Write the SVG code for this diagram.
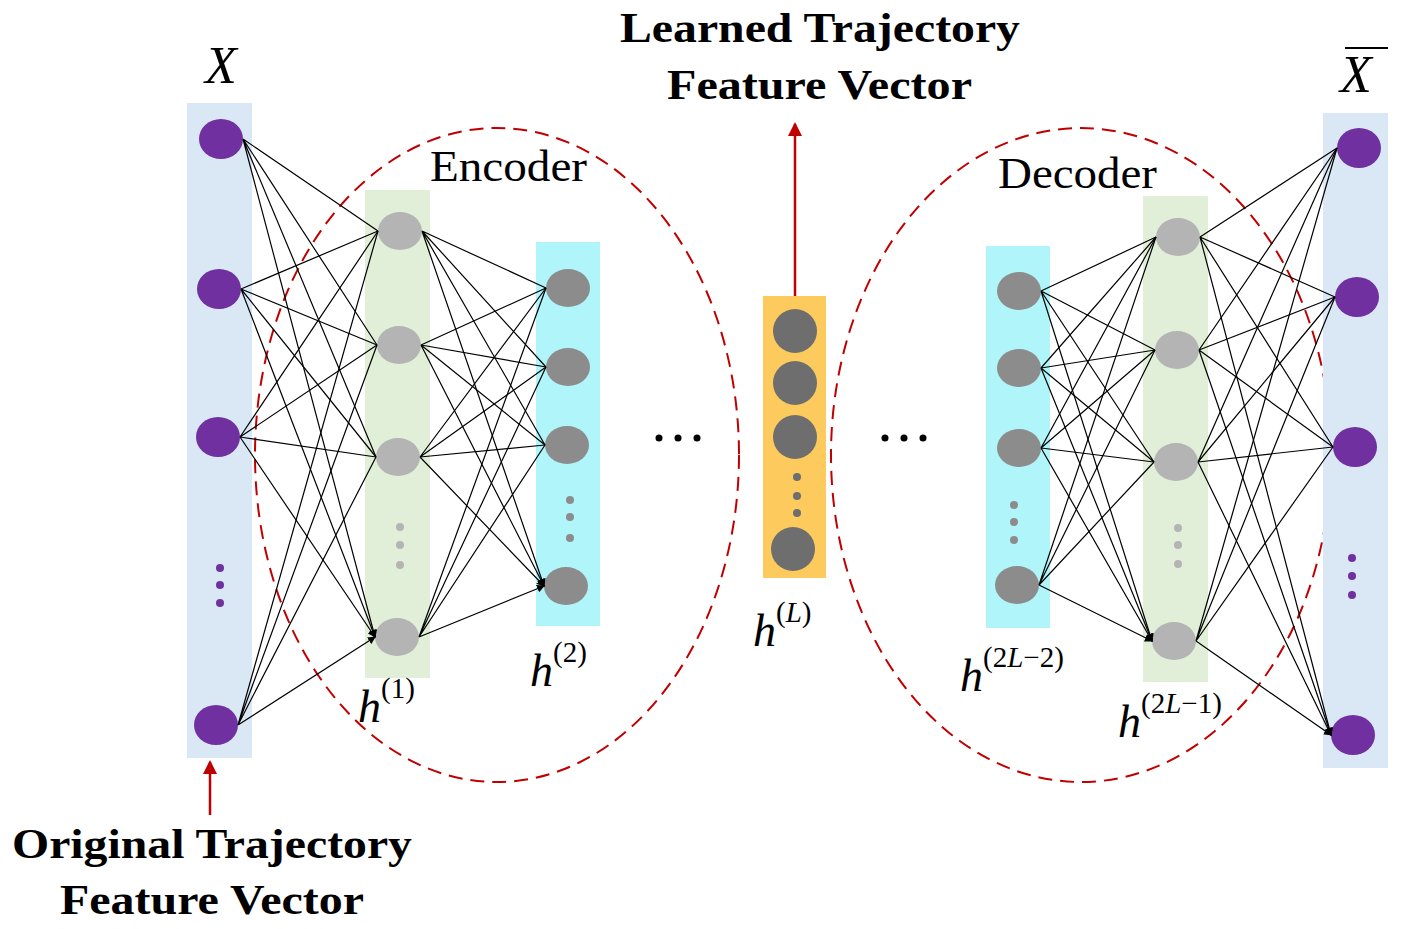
<svg xmlns="http://www.w3.org/2000/svg" width="1408" height="929" viewBox="0 0 1408 929">
<defs>
<marker id="ah" markerWidth="8" markerHeight="8" refX="7" refY="4" orient="auto" markerUnits="userSpaceOnUse"><path d="M0,0L8,4L0,8z" fill="#000"/></marker>
<marker id="rh" markerWidth="14" markerHeight="14" refX="12" refY="7" orient="auto" markerUnits="userSpaceOnUse"><path d="M0,0L14,7L0,14z" fill="#c00000"/></marker>
<style>
.c{stroke:#000;stroke-width:1.2;fill:none;marker-end:url(#ah)}
.p{fill:#7030a0}.g{fill:#b4b4b4}
.t{font-family:"Liberation Serif",serif;fill:#000}
.b{font-family:"Liberation Serif",serif;font-weight:bold;font-size:42px}
.i{font-family:"Liberation Serif",serif;font-style:italic}
.e{fill:none;stroke:#c00000;stroke-width:2;stroke-dasharray:14 8}
</style>
</defs>
<rect width="1408" height="929" fill="#fff"/>
<g id="ellipses">
<ellipse class="e" cx="497" cy="455" rx="242" ry="327"/>
<ellipse class="e" cx="1081" cy="455" rx="250" ry="327"/>
</g>
<g id="layerX"><rect x="187" y="103" width="65" height="655" fill="#dae8f5"/>
<ellipse class="p" cx="221" cy="139" rx="22" ry="20"/><ellipse class="p" cx="219" cy="289" rx="22" ry="20"/><ellipse class="p" cx="218" cy="437" rx="22" ry="20"/><ellipse class="p" cx="216" cy="725" rx="22" ry="20"/>
<circle class="p" cx="220" cy="568" r="4"/><circle class="p" cx="220" cy="585" r="4"/><circle class="p" cx="220" cy="603" r="4"/></g>
<g id="layerH1"><rect x="365" y="190" width="65" height="488" fill="#e1efd9"/>
<ellipse class="g" cx="400" cy="231" rx="22" ry="19"/><ellipse class="g" cx="399" cy="345" rx="22" ry="19"/><ellipse class="g" cx="398" cy="457" rx="22" ry="19"/><ellipse class="g" cx="397" cy="637" rx="22" ry="19"/>
<circle class="g" cx="400" cy="527" r="4"/><circle class="g" cx="400" cy="545" r="4"/><circle class="g" cx="400" cy="565" r="4"/></g>
<g id="layerH2"><rect x="536" y="242" width="64" height="384" fill="#aff5fa"/>
<ellipse cx="568" cy="288" rx="22" ry="19" fill="#8c8c8c"/><ellipse cx="568" cy="367" rx="22" ry="19" fill="#8c8c8c"/><ellipse cx="567" cy="445" rx="22" ry="19" fill="#8c8c8c"/><ellipse cx="566" cy="586" rx="22" ry="19" fill="#8c8c8c"/>
<circle cx="570" cy="500" r="4" fill="#8c8c8c"/><circle cx="570" cy="517" r="4" fill="#8c8c8c"/><circle cx="570" cy="538" r="4" fill="#8c8c8c"/></g>
<g id="layerHL"><rect x="763" y="296" width="63" height="282" fill="#fdcb5d"/>
<circle cx="795" cy="331" r="22" fill="#6e6e6e"/><circle cx="795" cy="383" r="22" fill="#6e6e6e"/><circle cx="795" cy="437" r="22" fill="#6e6e6e"/><circle cx="793" cy="549" r="22" fill="#6e6e6e"/>
<circle cx="797" cy="477" r="4" fill="#6e6e6e"/><circle cx="797" cy="496" r="4" fill="#6e6e6e"/><circle cx="797" cy="513" r="4" fill="#6e6e6e"/></g>
<g id="layerH2L2"><rect x="986" y="246" width="64" height="382" fill="#aff5fa"/>
<ellipse cx="1019" cy="291" rx="22" ry="19" fill="#8c8c8c"/><ellipse cx="1019" cy="368" rx="22" ry="19" fill="#8c8c8c"/><ellipse cx="1019" cy="448" rx="22" ry="19" fill="#8c8c8c"/><ellipse cx="1017" cy="585" rx="22" ry="19" fill="#8c8c8c"/>
<circle cx="1014" cy="505" r="4" fill="#8c8c8c"/><circle cx="1014" cy="522" r="4" fill="#8c8c8c"/><circle cx="1014" cy="540" r="4" fill="#8c8c8c"/></g>
<g id="layerH2L1"><rect x="1143" y="196" width="65" height="486" fill="#e1efd9"/>
<ellipse class="g" cx="1178" cy="237" rx="22" ry="19"/><ellipse class="g" cx="1177" cy="350" rx="22" ry="19"/><ellipse class="g" cx="1176" cy="462" rx="22" ry="19"/><ellipse class="g" cx="1174" cy="641" rx="22" ry="19"/>
<circle class="g" cx="1178" cy="528" r="4"/><circle class="g" cx="1178" cy="545" r="4"/><circle class="g" cx="1178" cy="564" r="4"/></g>
<g id="layerXbar"><rect x="1323" y="113" width="65" height="655" fill="#dae8f5"/>
<ellipse class="p" cx="1359" cy="148" rx="22" ry="20"/><ellipse class="p" cx="1357" cy="297" rx="22" ry="20"/><ellipse class="p" cx="1355" cy="447" rx="22" ry="20"/><ellipse class="p" cx="1353" cy="735" rx="22" ry="20"/>
<circle class="p" cx="1352" cy="558" r="4"/><circle class="p" cx="1352" cy="576" r="4"/><circle class="p" cx="1352" cy="595" r="4"/></g>
<g id="connectors">
<path class="c" d="M243,139L378,231M243,139L377,345M243,139L376,457M243,139L375,637"/>
<path class="c" d="M241,289L378,231M241,289L377,345M241,289L376,457M241,289L375,637"/>
<path class="c" d="M240,437L378,231M240,437L377,345M240,437L376,457M240,437L375,637"/>
<path class="c" d="M238,725L378,231M238,725L377,345M238,725L376,457M238,725L375,637"/>
<path class="c" d="M422,231L546,288M422,231L546,367M422,231L545,445M422,231L544,586"/>
<path class="c" d="M421,345L546,288M421,345L546,367M421,345L545,445M421,345L544,586"/>
<path class="c" d="M420,457L546,288M420,457L546,367M420,457L545,445M420,457L544,586"/>
<path class="c" d="M419,637L546,288M419,637L546,367M419,637L545,445M419,637L544,586"/>
<path class="c" d="M1041,291L1156,237M1041,291L1155,350M1041,291L1154,462M1041,291L1152,641"/>
<path class="c" d="M1041,368L1156,237M1041,368L1155,350M1041,368L1154,462M1041,368L1152,641"/>
<path class="c" d="M1041,448L1156,237M1041,448L1155,350M1041,448L1154,462M1041,448L1152,641"/>
<path class="c" d="M1039,585L1156,237M1039,585L1155,350M1039,585L1154,462M1039,585L1152,641"/>
<path class="c" d="M1200,237L1337,148M1200,237L1335,297M1200,237L1333,447M1200,237L1331,735"/>
<path class="c" d="M1199,350L1337,148M1199,350L1335,297M1199,350L1333,447M1199,350L1331,735"/>
<path class="c" d="M1198,462L1337,148M1198,462L1335,297M1198,462L1333,447M1198,462L1331,735"/>
<path class="c" d="M1196,641L1337,148M1196,641L1335,297M1196,641L1333,447M1196,641L1331,735"/>
<path d="M795,296L795,124" stroke="#c00000" stroke-width="2.5" marker-end="url(#rh)"/>
<path d="M210,815L210,762" stroke="#c00000" stroke-width="2.5" marker-end="url(#rh)"/>
</g>
<g id="labels">
<text class="b" x="620" y="42" textLength="400" lengthAdjust="spacingAndGlyphs">Learned Trajectory</text>
<text class="b" x="667" y="99" textLength="305" lengthAdjust="spacingAndGlyphs">Feature Vector</text>
<text class="b" x="12" y="858" textLength="400" lengthAdjust="spacingAndGlyphs">Original Trajectory</text>
<text class="b" x="60" y="914" textLength="304" lengthAdjust="spacingAndGlyphs">Feature Vector</text>
<text class="t" x="430" y="181" font-size="44" textLength="157" lengthAdjust="spacingAndGlyphs">Encoder</text>
<text class="t" x="998" y="188" font-size="44" textLength="159" lengthAdjust="spacingAndGlyphs">Decoder</text>
<text class="i" x="205" y="83" font-size="52">X</text>
<text class="i" x="1340" y="92" font-size="52">X</text>
<path d="M1345,48H1388" stroke="#000" stroke-width="2"/>
<g fill="#000"><circle cx="659" cy="438" r="3.5"/><circle cx="678" cy="438" r="3.5"/><circle cx="697" cy="438" r="3.5"/>
<circle cx="885" cy="438" r="3.5"/><circle cx="904" cy="438" r="3.5"/><circle cx="923" cy="438" r="3.5"/></g>
<text class="i" x="358" y="722" font-size="46">h<tspan font-style="normal" font-size="29" dy="-24">(1)</tspan></text>
<text class="i" x="530" y="686" font-size="46">h<tspan font-style="normal" font-size="29" dy="-24">(2)</tspan></text>
<text class="i" x="753" y="646" font-size="46">h<tspan font-size="29" dy="-24"><tspan font-style="normal">(</tspan>L<tspan font-style="normal">)</tspan></tspan></text>
<text class="i" x="960" y="691" font-size="46">h<tspan font-size="29" dy="-24"><tspan font-style="normal">(2</tspan>L<tspan font-style="normal">−2)</tspan></tspan></text>
<text class="i" x="1118" y="737" font-size="46">h<tspan font-size="29" dy="-24"><tspan font-style="normal">(2</tspan>L<tspan font-style="normal">−1)</tspan></tspan></text>
</g>
</svg>
